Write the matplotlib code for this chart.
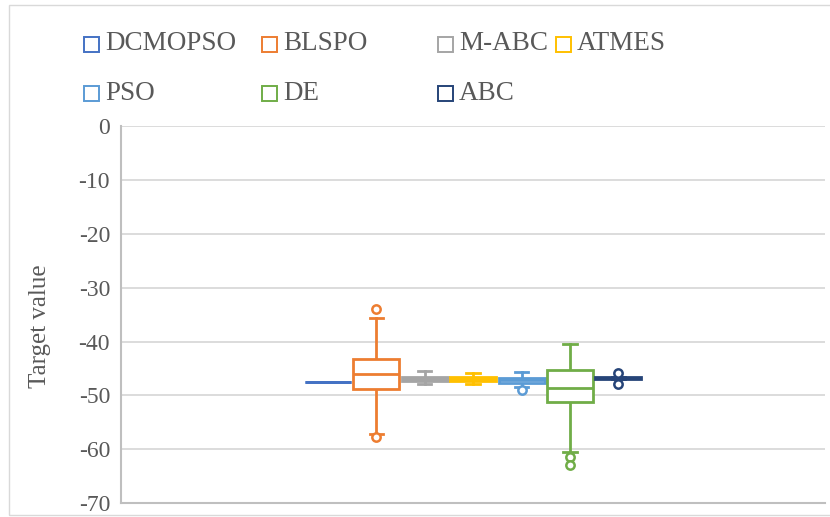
import matplotlib.pyplot as plt
from matplotlib.patches import Rectangle

# --------------------------------------------------------------------------- #
# Data
# --------------------------------------------------------------------------- #
methods = ["DCMOPSO", "BLSPO", "M-ABC", "ATMES", "PSO", "DE", "ABC"]
colors = ["#4472C4", "#ED7D31", "#A5A5A5", "#FFC000", "#5B9BD5", "#70AD47", "#264478"]

q1 = [-47.6, -48.8, -47.3, -47.3, -47.7, -51.3, -47.0]
median = [-47.6, -46.0, -47.0, -47.0, -47.2, -48.6, -46.8]
q3 = [-47.6, -43.2, -46.6, -46.6, -46.8, -45.3, -46.6]
whislo = [-47.6, -57.1, -47.9, -47.9, -48.4, -60.5, -47.0]
whishi = [-47.6, -35.6, -45.5, -45.8, -45.6, -40.4, -46.6]
fliers = [[], [-34.0, -57.7], [], [], [-49.0], [-61.5, -63.0], [-45.9, -47.8]]

yticks = [0, -10, -20, -30, -40, -50, -60, -70]

SERIF = "Liberation Serif"
TEXT = "#595959"
GRID = "#D9D9D9"

# --------------------------------------------------------------------------- #
# Plot
# --------------------------------------------------------------------------- #
fig = plt.figure(figsize=(8.3, 5.17), dpi=100)
ax = fig.add_axes([0.146, 0.027, 0.848, 0.729])

stats = [
    {"q1": a, "med": m, "q3": b, "whislo": lo, "whishi": hi, "fliers": f, "label": n}
    for a, m, b, lo, hi, f, n in zip(q1, median, q3, whislo, whishi, fliers, methods)
]
positions = list(range(1, len(methods) + 1))
bp = ax.bxp(stats, positions=positions, widths=0.95, patch_artist=True,
            showfliers=True, manage_ticks=False)

for i, c in enumerate(colors):
    bp["boxes"][i].set(facecolor="white", edgecolor=c, linewidth=2.0, zorder=3)
    bp["medians"][i].set(color=c, linewidth=2.0, zorder=4)
    for w in bp["whiskers"][2 * i:2 * i + 2]:
        w.set(color=c, linewidth=2.0, zorder=2)
    for cap in bp["caps"][2 * i:2 * i + 2]:
        cap.set(color=c, linewidth=2.0, zorder=2)
        xd = cap.get_xdata()
        mid = (xd[0] + xd[1]) / 2
        cap.set_xdata([mid - 0.14, mid + 0.14])
    bp["fliers"][i].set(marker="o", markerfacecolor="white", markeredgecolor=c,
                        markersize=6, markeredgewidth=1.8, zorder=5)

ax.set_xlim(4 - 7.27, 4 + 7.27)
ax.set_ylim(-70, 0)
ax.set_yticks(yticks)
ax.set_yticklabels([str(t) for t in yticks], fontfamily=SERIF, fontsize=17, color=TEXT)
ax.set_xticks([])
ax.tick_params(axis="y", length=0, pad=8)
ax.grid(axis="y", color=GRID, linewidth=1.3)
ax.set_axisbelow(True)
for side in ["top", "right"]:
    ax.spines[side].set_visible(False)
for side in ["left", "bottom"]:
    ax.spines[side].set_color("#BFBFBF")
    ax.spines[side].set_linewidth(1.5)
ax.set_ylabel("Target value", fontfamily=SERIF, fontsize=18, color=TEXT, labelpad=10)
ax.yaxis.set_label_coords(-0.1, 0.47)

# legend laid out like the Excel one: squares with coloured outline
legend_xy = [(84, 44), (262, 44), (438, 44), (556, 44),
             (84, 93), (262, 93), (438, 93)]
W, H = 830, 517
sq = 15
for k, (px, py) in enumerate(legend_xy):
    fig.patches.append(Rectangle((px / W, 1 - (py + sq / 2) / H), sq / W, sq / H,
                                 transform=fig.transFigure, facecolor="white",
                                 edgecolor=colors[k], linewidth=1.4))
    fig.text((px + sq + 6) / W, 1 - py / H, methods[k], fontfamily=SERIF,
             fontsize=19.5, color=TEXT, va="center", ha="left")

# faint chart-area border
fig.patches.append(Rectangle((9 / W, 2 / H), 1.0, 1 - 7 / H, transform=fig.transFigure,
                             fill=False, edgecolor=GRID, linewidth=1.0))

fig.savefig("out.png", dpi=100)
